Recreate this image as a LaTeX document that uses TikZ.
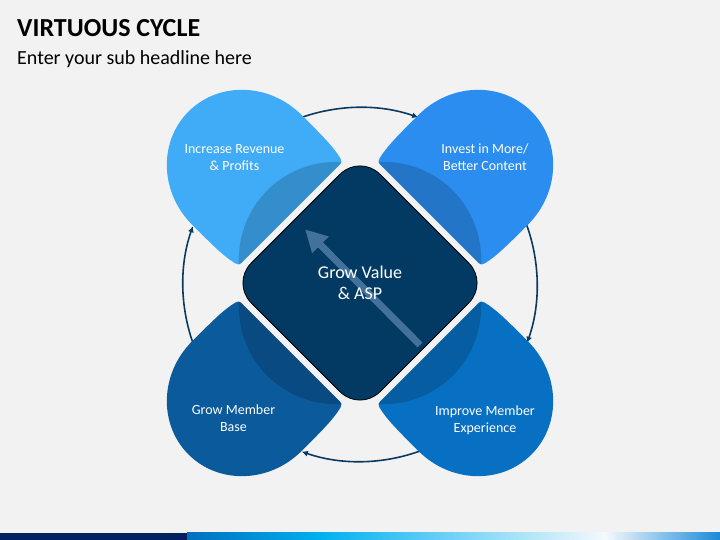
\documentclass[tikz,border=0pt]{standalone}
\usepackage{fontspec}
\setmainfont{Carlito}
\usetikzlibrary{arrows.meta}
\definecolor{bg}{HTML}{F2F2F2}
\definecolor{ptl}{HTML}{40ABF6}
\definecolor{ptr}{HTML}{2B8DF0}
\definecolor{pbl}{HTML}{0A5A9C}
\definecolor{pbr}{HTML}{0870C2}
\definecolor{corefill}{HTML}{023A63}
\definecolor{cyccol}{HTML}{0B3A60}
\definecolor{arrcol}{HTML}{42729A}
\definecolor{navystrip}{HTML}{002060}
\definecolor{stripblue}{HTML}{0070C0}
\definecolor{stripcyan}{HTML}{00B0F0}
\definecolor{stripwhite}{HTML}{F5F9FC}
\definecolor{stripend}{HTML}{1A8AD8}
\tikzset{
  petaltext/.style={text=white, align=center, inner sep=0pt, font=\fontsize{14}{17}\selectfont},
  cyclearrow/.style={draw=cyccol, line width=1.6pt, -{Latex[length=6pt,width=6pt]}},
}
\begin{document}
\begin{tikzpicture}[x=1pt,y=1pt]
\fill[bg] (0,0) rectangle (720,540);
\useasboundingbox (0,0) rectangle (720,540);
% bottom strip
\fill[navystrip] (0,0) rectangle (187.5,7);
\shade[left color=stripblue, right color=stripcyan] (187,0) rectangle (320.5,7);
\shade[left color=stripcyan, right color=stripwhite] (320,0) rectangle (605.5,7);
\shade[left color=stripwhite, right color=stripend] (605,0) rectangle (720,7);
% title
\node[anchor=base west, inner sep=0pt, font=\fontsize{26}{30}\selectfont\bfseries] (title) at (17,503.3) {VIRTUOUS CYCLE};
\node[anchor=base west, inner sep=0pt, font=\fontsize{20}{24}\selectfont] (subtitle) at (17,475) {Enter your sub headline here};
% cycle arrows
\coordinate (cc) at (360,255.5);
\draw[cyclearrow] (cc) ++(112:177) arc[start angle=112, end angle=70.8, radius=177];
\draw[cyclearrow] (cc) ++(22:177) arc[start angle=22, end angle=-19.2, radius=177];
\draw[cyclearrow] (cc) ++(-68:177) arc[start angle=-68, end angle=-109.2, radius=177];
\draw[cyclearrow] (cc) ++(202:177) arc[start angle=202, end angle=160.8, radius=177];
% petals
\foreach \ang/\col in {135/ptl, 45/ptr, 225/pbl, 315/pbr}{
  \begin{scope}[shift={(360,257)}, rotate=\ang]
    \fill[\col] (98,-70) -- (98,70) .. controls (98,72.5) and (99,73.3) .. (102,74.3)
      .. controls (115,77.5) and (130,77.5) .. (160,77.5)
      arc[start angle=90,end angle=-90,x radius=82.5,y radius=77.5]
      .. controls (130,-77.5) and (115,-77.5) .. (102,-74.3)
      .. controls (99,-73.3) and (98,-72.5) .. (98,-70) -- cycle;
    \begin{scope}
      \clip (98,-70) -- (98,70) .. controls (98,72.5) and (99,73.3) .. (102,74.3)
        .. controls (115,77.5) and (130,77.5) .. (160,77.5)
        arc[start angle=90,end angle=-90,x radius=82.5,y radius=77.5]
        .. controls (130,-77.5) and (115,-77.5) .. (102,-74.3)
        .. controls (99,-73.3) and (98,-72.5) .. (98,-70) -- cycle;
      \fill[black, opacity=0.17] (98,-73) arc[start angle=-48.7,end angle=48.7,radius=97.2] -- cycle;
    \end{scope}
  \end{scope}
}
% centre diamond
\node[rotate=45, minimum width=182pt, minimum height=182pt, rounded corners=28pt, draw=black, line width=0.8pt, fill=corefill, inner sep=0pt] (core) at (360,257) {};
\coordinate (arrstart) at (420,195);
\coordinate (arrend) at (305,310.7);
\draw[arrcol, line width=7pt, -{Triangle[width=22pt,length=22pt]}] (arrstart) -- (arrend);
\node[text=white, align=center, inner sep=0pt, font=\fontsize{18}{21}\selectfont] (corelabel) at (360,257) {Grow Value\\\& ASP};
% petal labels
\node[petaltext] (tl) at (234.5,382.5) {Increase Revenue\\\& Profits};
\node[petaltext] (tr) at (485,382.5) {Invest in More/\\Better Content};
\node[petaltext] (bl) at (233.5,122) {Grow Member\\Base};
\node[petaltext] (br) at (485,120) {Improve Member\\Experience};
\end{tikzpicture}
\end{document}
